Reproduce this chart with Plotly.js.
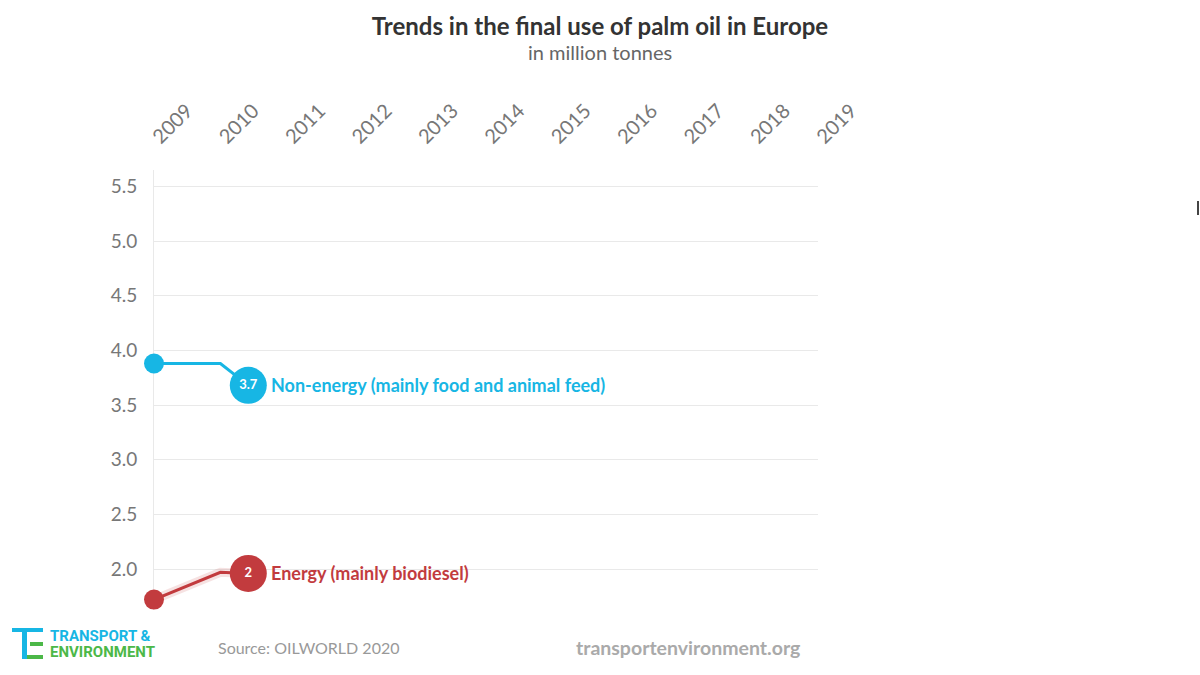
<!DOCTYPE html>
<html>
<head>
<meta charset="utf-8">
<script src="https://cdn.plot.ly/plotly-3.0.1.min.js"></script>
<style>
html,body{margin:0;padding:0;background:#fff;}
#chart{width:1200px;height:675px;}
</style>
</head>
<body>
<div id="chart"></div>
<script>
// ---- data ----
const years = [2009, 2010];
const yearTicks = [2009, 2010, 2011, 2012, 2013, 2014, 2015, 2016, 2017, 2018, 2019];
const nonEnergy = [3.88, 3.88];
const energy = [1.72, 1.97];
const seriesNames = ["Non-energy (mainly food and animal feed)", "Energy (mainly biodiesel)"];
const labelValues = ["3.7", "2"];
const labelY = [3.68, 1.96];
const labelX = 2010.42;
const yTicks = [2.0, 2.5, 3.0, 3.5, 4.0, 4.5, 5.0, 5.5];

const cyan = "#17b6e4";
const red = "#c23b3e";
const FONT = "'Source Sans Pro', Lato, 'Open Sans', sans-serif";

// pixel helpers for decorative parts (plot area: x 154..818, y 170..610)
const PL = 154, PR = 818, PT = 170, PB = 610;
const px = x => (x - PL) / (PR - PL);
const py = y => (PB - y) / (PB - PT);

const traces = [
  // energy glow
  {x: years.concat([labelX]), y: energy.concat([labelY[1]]), mode: "lines",
   line: {color: "rgba(194,59,62,0.15)", width: 9}, hoverinfo: "skip", cliponaxis: false},
  // non-energy line
  {x: years.concat([labelX]), y: nonEnergy.concat([labelY[0]]), mode: "lines",
   line: {color: cyan, width: 3, shape: "linear"}, hoverinfo: "skip", cliponaxis: false},
  {x: years.concat([labelX]), y: energy.concat([labelY[1]]), mode: "lines",
   line: {color: red, width: 3}, hoverinfo: "skip", cliponaxis: false},
  // start markers
  {x: [years[0]], y: [nonEnergy[0]], mode: "markers",
   marker: {color: cyan, size: 20}, cliponaxis: false, hoverinfo: "skip"},
  {x: [years[0]], y: [energy[0]], mode: "markers",
   marker: {color: red, size: 20}, cliponaxis: false, hoverinfo: "skip"},
  // label circles
  {x: [labelX, labelX], y: labelY, mode: "markers+text", text: labelValues,
   textposition: "middle center",
   textfont: {family: FONT, size: 13, color: "#fff", weight: 700},
   marker: {color: [cyan, red], size: 37}, cliponaxis: false, hoverinfo: "skip"}
];

const shapes = [
  // logo: T (cyan) + E (green)
  {type: "rect", xref: "paper", yref: "paper", x0: px(12), x1: px(43), y0: py(632), y1: py(628), fillcolor: cyan, line: {width: 0}},
  {type: "rect", xref: "paper", yref: "paper", x0: px(22), x1: px(27), y0: py(659), y1: py(630), fillcolor: cyan, line: {width: 0}},
  {type: "rect", xref: "paper", yref: "paper", x0: px(30), x1: px(43), y0: py(646), y1: py(642), fillcolor: "#4cb848", line: {width: 0}},
  {type: "rect", xref: "paper", yref: "paper", x0: px(27), x1: px(43), y0: py(659), y1: py(655), fillcolor: "#4cb848", line: {width: 0}},
  // small dark mark at right edge
  {type: "rect", xref: "paper", yref: "paper", x0: px(1197), x1: px(1199), y0: py(215), y1: py(201), fillcolor: "#444", line: {width: 0}}
];

const annotations = [
  {text: "in million tonnes", xref: "paper", yref: "paper", x: px(600), y: py(52), xanchor: "center", yanchor: "middle",
   showarrow: false, font: {family: FONT, size: 20, color: "#666"}},
  {text: "<b>" + seriesNames[0] + "</b>", xref: "x", yref: "y", x: labelX, y: labelY[0], xshift: 21, xanchor: "left", yanchor: "middle",
   showarrow: false, font: {family: FONT, size: 18, color: cyan}},
  {text: "<b>" + seriesNames[1] + "</b>", xref: "x", yref: "y", x: labelX, y: labelY[1], xshift: 21, xanchor: "left", yanchor: "middle",
   showarrow: false, font: {family: FONT, size: 18, color: red}},
  {text: "<b>TRANSPORT &amp;</b>", xref: "paper", yref: "paper", x: px(48), y: py(636), xanchor: "left", yanchor: "middle",
   showarrow: false, font: {family: "'Liberation Sans Narrow', 'Arial Narrow', Roboto, sans-serif", size: 15, color: cyan}},
  {text: "<b>ENVIRONMENT</b>", xref: "paper", yref: "paper", x: px(48), y: py(652), xanchor: "left", yanchor: "middle",
   showarrow: false, font: {family: "'Liberation Sans Narrow', 'Arial Narrow', Roboto, sans-serif", size: 15, color: "#4cb848"}},
  {text: "Source: OILWORLD 2020", xref: "paper", yref: "paper", x: px(216), y: py(647), xanchor: "left", yanchor: "middle",
   showarrow: false, font: {family: FONT, size: 16, color: "#999"}},
  {text: "<b>transportenvironment.org</b>", xref: "paper", yref: "paper", x: px(802), y: py(647), xanchor: "right", yanchor: "middle",
   showarrow: false, font: {family: FONT, size: 19.5, color: "#aaa"}}
];

const layout = {
  width: 1200, height: 675,
  margin: {l: PL, r: 1200 - PR, t: PT, b: 675 - PB, pad: 0},
  paper_bgcolor: "#fff", plot_bgcolor: "#fff",
  showlegend: false,
  title: {text: "<b>Trends in the final use of palm oil in Europe</b>", x: 0.5, xanchor: "center",
          y: 1 - 27 / 675, yanchor: "middle", yref: "container",
          font: {family: FONT, size: 24, color: "#333"}},
  xaxis: {range: [2009, 2019], side: "top", tickvals: yearTicks, ticktext: yearTicks.map(String),
          tickangle: -45, showgrid: false, zeroline: false, showline: false,
          ticks: "outside", ticklen: 13, tickcolor: "rgba(0,0,0,0)",
          tickfont: {family: FONT, size: 20, color: "#777"}},
  yaxis: {range: [1.625, 5.65], tickvals: yTicks, ticktext: yTicks.map(v => v.toFixed(1)),
          showgrid: true, gridcolor: "#e9e9e9", gridwidth: 1, zeroline: false,
          showline: true, linecolor: "#e9e9e9", linewidth: 1, layer: "below traces",
          ticks: "outside", ticklen: 12, tickcolor: "rgba(0,0,0,0)",
          tickfont: {family: FONT, size: 19, color: "#777"}},
  shapes: shapes,
  annotations: annotations
};

Plotly.newPlot("chart", traces, layout, {displayModeBar: false, staticPlot: true});
</script>
</body>
</html>
